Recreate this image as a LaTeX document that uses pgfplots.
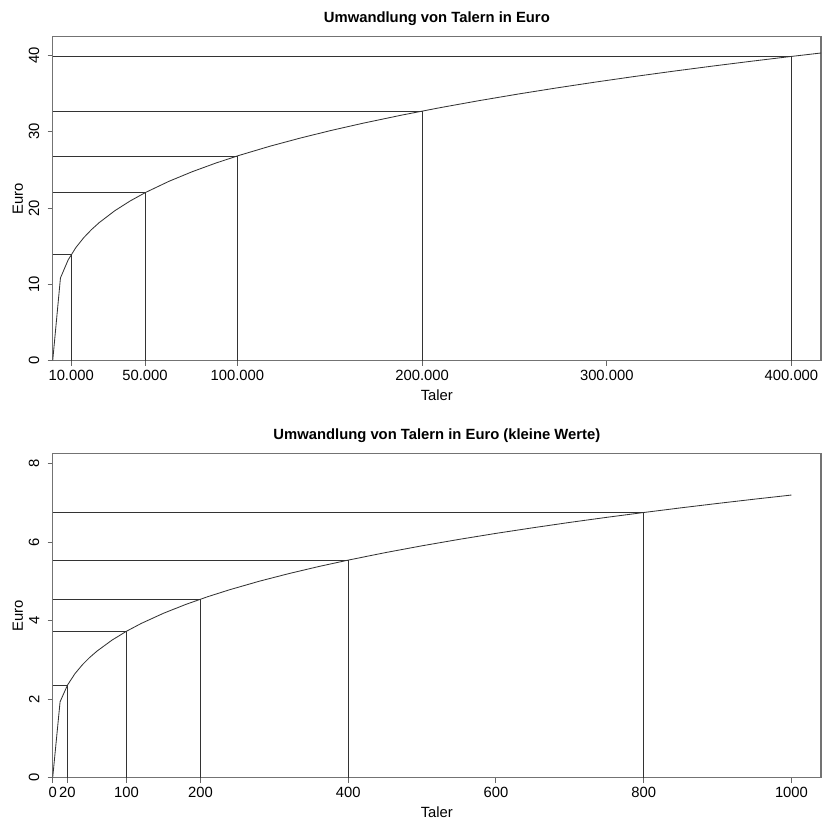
\documentclass[border=0pt]{standalone}
\usepackage{fontspec}
\setmainfont{Liberation Sans}
\usepackage{pgfplots}
\pgfplotsset{compat=1.18}
\newcommand\f{\fontsize{7.4pt}{9pt}\selectfont}
\pgfplotsset{
  rline/.style={black!80, line width=0.42pt, mark=none},
  rstyle/.style={
    scale only axis, width=384.15pt, height=162pt, anchor=south west,
    axis line style={black!55, line width=0.6pt},
    tick style={black!60, line width=0.5pt},
    tick align=outside, major tick length=2.5pt,
    xtick pos=bottom, ytick pos=left,
    scaled ticks=false,
    ticklabel style={font=\f},
    xticklabel style={anchor=north, inner sep=0pt, yshift=-2.2pt},
    yticklabel style={inner sep=0pt},
    every y tick label/.append style={xshift=-4pt, rotate=90, anchor=south},
    every axis x label/.style={font=\f, at={(axis description cs:0.5,0)}, anchor=base, yshift=-20pt, inner sep=0pt},
    every axis y label/.style={font=\f, at={(axis description cs:0,0.5)}, xshift=-14.7pt, rotate=90, anchor=south, inner sep=0pt},
    every axis title/.style={font=\f\bfseries, at={(axis description cs:0.5,1)}, anchor=base, yshift=7pt, inner sep=0pt},
  }
}
\begin{document}
\begin{tikzpicture}
\begin{axis}[rstyle, at={(26.35pt,230.15pt)},
  xmin=0, xmax=416000, ymin=0, ymax=42.45,
  xtick={10000,50000,100000,200000,300000,400000},
  xticklabels={10.000,50.000,100.000,200.000,300.000,400.000},
  ytick={0,10,20,30,40}, yticklabels={0,10,20,30,40},
  title={Umwandlung von Talern in Euro}, xlabel={Taler}, ylabel={Euro}]
\addplot[rline] coordinates {(0,0) (4200,10.845) (8400,13.220) (12600,14.844) (16800,16.116) (21000,17.177) (25200,18.095) (33600,19.645) (42000,20.938) (50400,22.058) (63000,23.510) (75600,24.767) (88200,25.883) (100800,26.889) (117600,28.100) (134400,29.192) (151200,30.192) (168000,31.114) (189000,32.179) (210000,33.163) (231000,34.078) (252000,34.936) (273000,35.744) (294000,36.509) (315000,37.236) (336000,37.929) (357000,38.592) (378000,39.227) (399000,39.838) (420000,40.426)};
\addplot[rline] coordinates {(0,13.895) (10000,13.895)};
\addplot[rline] coordinates {(10000,0) (10000,13.895)};
\addplot[rline] coordinates {(0,22.007) (50000,22.007)};
\addplot[rline] coordinates {(50000,0) (50000,22.007)};
\addplot[rline] coordinates {(0,26.827) (100000,26.827)};
\addplot[rline] coordinates {(100000,0) (100000,26.827)};
\addplot[rline] coordinates {(0,32.703) (200000,32.703)};
\addplot[rline] coordinates {(200000,0) (200000,32.703)};
\addplot[rline] coordinates {(0,39.865) (400000,39.865)};
\addplot[rline] coordinates {(400000,0) (400000,39.865)};
\end{axis}
\begin{axis}[rstyle, at={(26.35pt,21.75pt)},
  xmin=0, xmax=1040, ymin=0, ymax=8.255,
  xtick={0,20,100,200,400,600,800,1000},
  xticklabels={0,20,100,200,400,600,800,1000},
  ytick={0,2,4,6,8}, yticklabels={0,2,4,6,8},
  title={Umwandlung von Talern in Euro (kleine Werte)}, xlabel={Taler}, ylabel={Euro}]
\addplot[rline] coordinates {(0,0) (10,1.931) (20,2.354) (30,2.643) (40,2.869) (50,3.058) (60,3.221) (80,3.497) (100,3.728) (120,3.927) (150,4.185) (180,4.409) (210,4.608) (240,4.787) (280,5.003) (320,5.197) (360,5.375) (400,5.539) (450,5.729) (500,5.904) (550,6.067) (600,6.220) (650,6.363) (700,6.500) (750,6.629) (800,6.752) (850,6.870) (900,6.983) (950,7.092) (1000,7.197)};
\addplot[rline] coordinates {(0,2.354) (20,2.354)};
\addplot[rline] coordinates {(20,0) (20,2.354)};
\addplot[rline] coordinates {(0,3.728) (100,3.728)};
\addplot[rline] coordinates {(100,0) (100,3.728)};
\addplot[rline] coordinates {(0,4.544) (200,4.544)};
\addplot[rline] coordinates {(200,0) (200,4.544)};
\addplot[rline] coordinates {(0,5.539) (400,5.539)};
\addplot[rline] coordinates {(400,0) (400,5.539)};
\addplot[rline] coordinates {(0,6.752) (800,6.752)};
\addplot[rline] coordinates {(800,0) (800,6.752)};
\end{axis}
\pgfresetboundingbox
\path[use as bounding box] (0,0) rectangle (411pt,410.5pt);
\end{tikzpicture}
\end{document}
